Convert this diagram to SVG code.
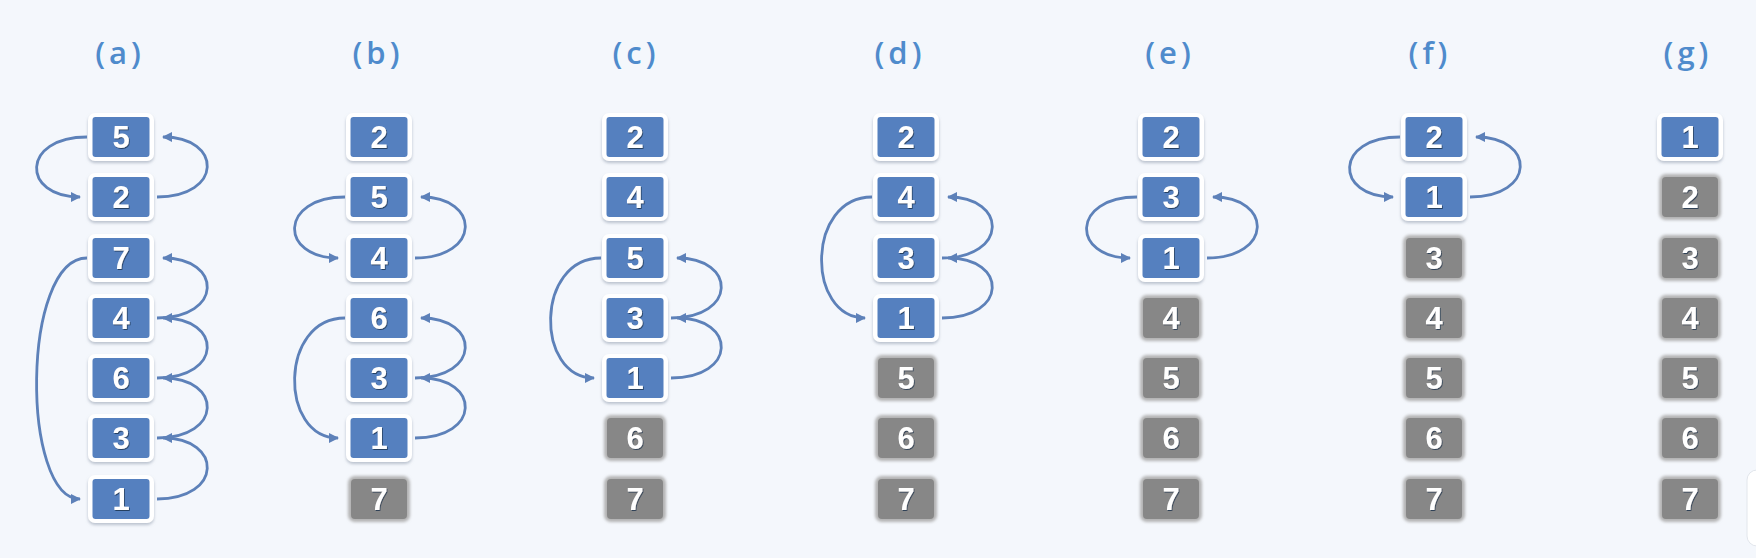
<svg xmlns="http://www.w3.org/2000/svg" width="1756" height="558" viewBox="0 0 1756 558">
<defs>
<style>
.lbl{font-family:"Open Sans","Liberation Sans",sans-serif;font-weight:600;font-size:31px;fill:#4f8bcc;letter-spacing:4px;text-anchor:middle}
.num{font-family:"Liberation Sans","Open Sans",sans-serif;font-weight:700;font-size:31px;fill:#ffffff;text-anchor:middle;filter:url(#ts)}
.rim{fill:#ffffff;filter:url(#sh)}
.bf{fill:#5580bf}
.halo{fill:#b3b3b3;filter:url(#bl)}
.gf{fill:#878787}
.arc{fill:none;stroke:#5d81b9;stroke-width:2.8;marker-end:url(#ah)}
</style>
<filter id="sh" x="-30%" y="-30%" width="160%" height="170%"><feDropShadow dx="0" dy="2" stdDeviation="1.6" flood-color="#8a96a8" flood-opacity="0.55"/></filter>
<filter id="ts" x="-30%" y="-30%" width="160%" height="160%"><feDropShadow dx="0.8" dy="1" stdDeviation="0.6" flood-color="#1d2f4a" flood-opacity="0.8"/></filter>
<filter id="bl" x="-20%" y="-20%" width="140%" height="140%"><feGaussianBlur stdDeviation="1.6"/></filter>
<marker id="ah" viewBox="0 0 10 10" refX="9" refY="5" markerUnits="userSpaceOnUse" markerWidth="11" markerHeight="10" orient="auto"><path d="M0,0 L10,5 L0,10 z" fill="#5d81b9"/></marker>
</defs>
<rect x="0" y="0" width="1756" height="558" fill="#f4f7fc"/>
<rect x="1747" y="470" width="40" height="76" rx="10" fill="#ffffff" stroke="#e2e6ec" stroke-width="1"/>
<g id="labels">
<text class="lbl" x="120" y="64">(a)</text>
<text class="lbl" x="378" y="64">(b)</text>
<text class="lbl" x="636" y="64">(c)</text>
<text class="lbl" x="900" y="64">(d)</text>
<text class="lbl" x="1170" y="64">(e)</text>
<text class="lbl" x="1430" y="64">(f)</text>
<text class="lbl" x="1688" y="64">(g)</text>
</g>
<g id="connectors">
<path class="arc" d="M87,137 C21,137 21,197 80,197"/>
<path class="arc" d="M157,197 C223,197 223,137 163,137"/>
<path class="arc" d="M87,258 C21,258 21,499 80,499"/>
<path class="arc" d="M157,499 C223,499 223,438 163,438"/>
<path class="arc" d="M157,438 C223,438 223,378 163,378"/>
<path class="arc" d="M157,378 C223,378 223,318 163,318"/>
<path class="arc" d="M157,318 C223,318 223,258 163,258"/>
<path class="arc" d="M345,197 C279,197 279,258 338,258"/>
<path class="arc" d="M415,258 C481,258 481,197 421,197"/>
<path class="arc" d="M345,318 C279,318 279,438 338,438"/>
<path class="arc" d="M415,438 C481,438 481,378 421,378"/>
<path class="arc" d="M415,378 C481,378 481,318 421,318"/>
<path class="arc" d="M601,258 C535,258 535,378 594,378"/>
<path class="arc" d="M671,378 C737,378 737,318 677,318"/>
<path class="arc" d="M671,318 C737,318 737,258 677,258"/>
<path class="arc" d="M872,197 C806,197 806,318 865,318"/>
<path class="arc" d="M942,318 C1008,318 1008,258 948,258"/>
<path class="arc" d="M942,258 C1008,258 1008,197 948,197"/>
<path class="arc" d="M1137,197 C1071,197 1071,258 1130,258"/>
<path class="arc" d="M1207,258 C1273,258 1273,197 1213,197"/>
<path class="arc" d="M1400,137 C1334,137 1334,197 1393,197"/>
<path class="arc" d="M1470,197 C1536,197 1536,137 1476,137"/>
</g>
<!-- column a -->
<g id="a-5" transform="translate(121,137)"><rect class="rim" x="-33" y="-24" width="66" height="48" rx="7"/><rect class="bf" x="-28.5" y="-20" width="57" height="40" rx="3"/><text class="num" y="11">5</text></g>
<g id="a-2" transform="translate(121,197)"><rect class="rim" x="-33" y="-24" width="66" height="48" rx="7"/><rect class="bf" x="-28.5" y="-20" width="57" height="40" rx="3"/><text class="num" y="11">2</text></g>
<g id="a-7" transform="translate(121,258)"><rect class="rim" x="-33" y="-24" width="66" height="48" rx="7"/><rect class="bf" x="-28.5" y="-20" width="57" height="40" rx="3"/><text class="num" y="11">7</text></g>
<g id="a-4" transform="translate(121,318)"><rect class="rim" x="-33" y="-24" width="66" height="48" rx="7"/><rect class="bf" x="-28.5" y="-20" width="57" height="40" rx="3"/><text class="num" y="11">4</text></g>
<g id="a-6" transform="translate(121,378)"><rect class="rim" x="-33" y="-24" width="66" height="48" rx="7"/><rect class="bf" x="-28.5" y="-20" width="57" height="40" rx="3"/><text class="num" y="11">6</text></g>
<g id="a-3" transform="translate(121,438)"><rect class="rim" x="-33" y="-24" width="66" height="48" rx="7"/><rect class="bf" x="-28.5" y="-20" width="57" height="40" rx="3"/><text class="num" y="11">3</text></g>
<g id="a-1" transform="translate(121,499)"><rect class="rim" x="-33" y="-24" width="66" height="48" rx="7"/><rect class="bf" x="-28.5" y="-20" width="57" height="40" rx="3"/><text class="num" y="11">1</text></g>
<!-- column b -->
<g id="b-2" transform="translate(379,137)"><rect class="rim" x="-33" y="-24" width="66" height="48" rx="7"/><rect class="bf" x="-28.5" y="-20" width="57" height="40" rx="3"/><text class="num" y="11">2</text></g>
<g id="b-5" transform="translate(379,197)"><rect class="rim" x="-33" y="-24" width="66" height="48" rx="7"/><rect class="bf" x="-28.5" y="-20" width="57" height="40" rx="3"/><text class="num" y="11">5</text></g>
<g id="b-4" transform="translate(379,258)"><rect class="rim" x="-33" y="-24" width="66" height="48" rx="7"/><rect class="bf" x="-28.5" y="-20" width="57" height="40" rx="3"/><text class="num" y="11">4</text></g>
<g id="b-6" transform="translate(379,318)"><rect class="rim" x="-33" y="-24" width="66" height="48" rx="7"/><rect class="bf" x="-28.5" y="-20" width="57" height="40" rx="3"/><text class="num" y="11">6</text></g>
<g id="b-3" transform="translate(379,378)"><rect class="rim" x="-33" y="-24" width="66" height="48" rx="7"/><rect class="bf" x="-28.5" y="-20" width="57" height="40" rx="3"/><text class="num" y="11">3</text></g>
<g id="b-1" transform="translate(379,438)"><rect class="rim" x="-33" y="-24" width="66" height="48" rx="7"/><rect class="bf" x="-28.5" y="-20" width="57" height="40" rx="3"/><text class="num" y="11">1</text></g>
<g id="b-7" transform="translate(379,499)"><rect class="halo" x="-31" y="-23" width="62" height="46" rx="7"/><rect class="gf" x="-28" y="-20" width="56" height="40" rx="4"/><text class="num" y="11">7</text></g>
<!-- column c -->
<g id="c-2" transform="translate(635,137)"><rect class="rim" x="-33" y="-24" width="66" height="48" rx="7"/><rect class="bf" x="-28.5" y="-20" width="57" height="40" rx="3"/><text class="num" y="11">2</text></g>
<g id="c-4" transform="translate(635,197)"><rect class="rim" x="-33" y="-24" width="66" height="48" rx="7"/><rect class="bf" x="-28.5" y="-20" width="57" height="40" rx="3"/><text class="num" y="11">4</text></g>
<g id="c-5" transform="translate(635,258)"><rect class="rim" x="-33" y="-24" width="66" height="48" rx="7"/><rect class="bf" x="-28.5" y="-20" width="57" height="40" rx="3"/><text class="num" y="11">5</text></g>
<g id="c-3" transform="translate(635,318)"><rect class="rim" x="-33" y="-24" width="66" height="48" rx="7"/><rect class="bf" x="-28.5" y="-20" width="57" height="40" rx="3"/><text class="num" y="11">3</text></g>
<g id="c-1" transform="translate(635,378)"><rect class="rim" x="-33" y="-24" width="66" height="48" rx="7"/><rect class="bf" x="-28.5" y="-20" width="57" height="40" rx="3"/><text class="num" y="11">1</text></g>
<g id="c-6" transform="translate(635,438)"><rect class="halo" x="-31" y="-23" width="62" height="46" rx="7"/><rect class="gf" x="-28" y="-20" width="56" height="40" rx="4"/><text class="num" y="11">6</text></g>
<g id="c-7" transform="translate(635,499)"><rect class="halo" x="-31" y="-23" width="62" height="46" rx="7"/><rect class="gf" x="-28" y="-20" width="56" height="40" rx="4"/><text class="num" y="11">7</text></g>
<!-- column d -->
<g id="d-2" transform="translate(906,137)"><rect class="rim" x="-33" y="-24" width="66" height="48" rx="7"/><rect class="bf" x="-28.5" y="-20" width="57" height="40" rx="3"/><text class="num" y="11">2</text></g>
<g id="d-4" transform="translate(906,197)"><rect class="rim" x="-33" y="-24" width="66" height="48" rx="7"/><rect class="bf" x="-28.5" y="-20" width="57" height="40" rx="3"/><text class="num" y="11">4</text></g>
<g id="d-3" transform="translate(906,258)"><rect class="rim" x="-33" y="-24" width="66" height="48" rx="7"/><rect class="bf" x="-28.5" y="-20" width="57" height="40" rx="3"/><text class="num" y="11">3</text></g>
<g id="d-1" transform="translate(906,318)"><rect class="rim" x="-33" y="-24" width="66" height="48" rx="7"/><rect class="bf" x="-28.5" y="-20" width="57" height="40" rx="3"/><text class="num" y="11">1</text></g>
<g id="d-5" transform="translate(906,378)"><rect class="halo" x="-31" y="-23" width="62" height="46" rx="7"/><rect class="gf" x="-28" y="-20" width="56" height="40" rx="4"/><text class="num" y="11">5</text></g>
<g id="d-6" transform="translate(906,438)"><rect class="halo" x="-31" y="-23" width="62" height="46" rx="7"/><rect class="gf" x="-28" y="-20" width="56" height="40" rx="4"/><text class="num" y="11">6</text></g>
<g id="d-7" transform="translate(906,499)"><rect class="halo" x="-31" y="-23" width="62" height="46" rx="7"/><rect class="gf" x="-28" y="-20" width="56" height="40" rx="4"/><text class="num" y="11">7</text></g>
<!-- column e -->
<g id="e-2" transform="translate(1171,137)"><rect class="rim" x="-33" y="-24" width="66" height="48" rx="7"/><rect class="bf" x="-28.5" y="-20" width="57" height="40" rx="3"/><text class="num" y="11">2</text></g>
<g id="e-3" transform="translate(1171,197)"><rect class="rim" x="-33" y="-24" width="66" height="48" rx="7"/><rect class="bf" x="-28.5" y="-20" width="57" height="40" rx="3"/><text class="num" y="11">3</text></g>
<g id="e-1" transform="translate(1171,258)"><rect class="rim" x="-33" y="-24" width="66" height="48" rx="7"/><rect class="bf" x="-28.5" y="-20" width="57" height="40" rx="3"/><text class="num" y="11">1</text></g>
<g id="e-4" transform="translate(1171,318)"><rect class="halo" x="-31" y="-23" width="62" height="46" rx="7"/><rect class="gf" x="-28" y="-20" width="56" height="40" rx="4"/><text class="num" y="11">4</text></g>
<g id="e-5" transform="translate(1171,378)"><rect class="halo" x="-31" y="-23" width="62" height="46" rx="7"/><rect class="gf" x="-28" y="-20" width="56" height="40" rx="4"/><text class="num" y="11">5</text></g>
<g id="e-6" transform="translate(1171,438)"><rect class="halo" x="-31" y="-23" width="62" height="46" rx="7"/><rect class="gf" x="-28" y="-20" width="56" height="40" rx="4"/><text class="num" y="11">6</text></g>
<g id="e-7" transform="translate(1171,499)"><rect class="halo" x="-31" y="-23" width="62" height="46" rx="7"/><rect class="gf" x="-28" y="-20" width="56" height="40" rx="4"/><text class="num" y="11">7</text></g>
<!-- column f -->
<g id="f-2" transform="translate(1434,137)"><rect class="rim" x="-33" y="-24" width="66" height="48" rx="7"/><rect class="bf" x="-28.5" y="-20" width="57" height="40" rx="3"/><text class="num" y="11">2</text></g>
<g id="f-1" transform="translate(1434,197)"><rect class="rim" x="-33" y="-24" width="66" height="48" rx="7"/><rect class="bf" x="-28.5" y="-20" width="57" height="40" rx="3"/><text class="num" y="11">1</text></g>
<g id="f-3" transform="translate(1434,258)"><rect class="halo" x="-31" y="-23" width="62" height="46" rx="7"/><rect class="gf" x="-28" y="-20" width="56" height="40" rx="4"/><text class="num" y="11">3</text></g>
<g id="f-4" transform="translate(1434,318)"><rect class="halo" x="-31" y="-23" width="62" height="46" rx="7"/><rect class="gf" x="-28" y="-20" width="56" height="40" rx="4"/><text class="num" y="11">4</text></g>
<g id="f-5" transform="translate(1434,378)"><rect class="halo" x="-31" y="-23" width="62" height="46" rx="7"/><rect class="gf" x="-28" y="-20" width="56" height="40" rx="4"/><text class="num" y="11">5</text></g>
<g id="f-6" transform="translate(1434,438)"><rect class="halo" x="-31" y="-23" width="62" height="46" rx="7"/><rect class="gf" x="-28" y="-20" width="56" height="40" rx="4"/><text class="num" y="11">6</text></g>
<g id="f-7" transform="translate(1434,499)"><rect class="halo" x="-31" y="-23" width="62" height="46" rx="7"/><rect class="gf" x="-28" y="-20" width="56" height="40" rx="4"/><text class="num" y="11">7</text></g>
<!-- column g -->
<g id="g-1" transform="translate(1690,137)"><rect class="rim" x="-33" y="-24" width="66" height="48" rx="7"/><rect class="bf" x="-28.5" y="-20" width="57" height="40" rx="3"/><text class="num" y="11">1</text></g>
<g id="g-2" transform="translate(1690,197)"><rect class="halo" x="-31" y="-23" width="62" height="46" rx="7"/><rect class="gf" x="-28" y="-20" width="56" height="40" rx="4"/><text class="num" y="11">2</text></g>
<g id="g-3" transform="translate(1690,258)"><rect class="halo" x="-31" y="-23" width="62" height="46" rx="7"/><rect class="gf" x="-28" y="-20" width="56" height="40" rx="4"/><text class="num" y="11">3</text></g>
<g id="g-4" transform="translate(1690,318)"><rect class="halo" x="-31" y="-23" width="62" height="46" rx="7"/><rect class="gf" x="-28" y="-20" width="56" height="40" rx="4"/><text class="num" y="11">4</text></g>
<g id="g-5" transform="translate(1690,378)"><rect class="halo" x="-31" y="-23" width="62" height="46" rx="7"/><rect class="gf" x="-28" y="-20" width="56" height="40" rx="4"/><text class="num" y="11">5</text></g>
<g id="g-6" transform="translate(1690,438)"><rect class="halo" x="-31" y="-23" width="62" height="46" rx="7"/><rect class="gf" x="-28" y="-20" width="56" height="40" rx="4"/><text class="num" y="11">6</text></g>
<g id="g-7" transform="translate(1690,499)"><rect class="halo" x="-31" y="-23" width="62" height="46" rx="7"/><rect class="gf" x="-28" y="-20" width="56" height="40" rx="4"/><text class="num" y="11">7</text></g>
</svg>
